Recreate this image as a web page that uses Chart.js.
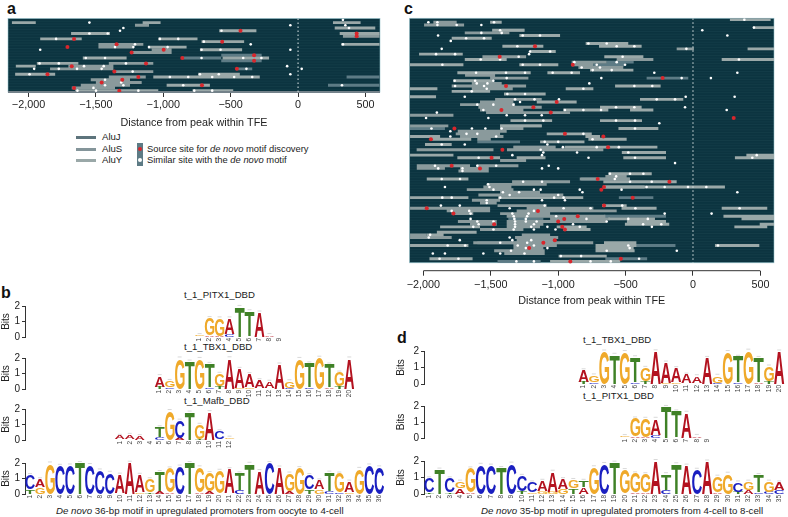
<!DOCTYPE html>
<html>
<head>
<meta charset="utf-8">
<script src="https://cdn.jsdelivr.net/npm/chart.js@4"></script>
<style>
body { margin: 0; background: #fff; width: 788px; height: 517px; overflow: hidden; position: relative; font-family: "Liberation Sans", sans-serif; color: #222; }
canvas { position: absolute; filter: blur(0.35px); }
.txt { position: absolute; white-space: nowrap; font-size: 9.6px; line-height: 12px; }
.legend { font-size: 9.4px; }
.caption { font-size: 9.7px; }
.panel { position: absolute; font-weight: bold; font-size: 16px; line-height: 16px; color: #111; }
.swatch { position: absolute; left: 76px; width: 20px; height: 3px; }
</style>
</head>
<body>
<div class="panel" style="left:7px;top:1px">a</div>
<div class="panel" style="left:404px;top:1px">c</div>
<div class="panel" style="left:1px;top:285px">b</div>
<div class="panel" style="left:397px;top:330px">d</div>

<div class="swatch" style="top:136px;background:#5d747c"></div>
<div class="swatch" style="top:148px;background:#84959a"></div>
<div class="swatch" style="top:159px;background:#9aa8a8"></div>
<div class="txt" style="left:102px;top:131px">AluJ</div>
<div class="txt" style="left:102px;top:143px">AluS</div>
<div class="txt" style="left:102px;top:154px">AluY</div>
<div style="position:absolute;left:137px;top:143px;width:6px;height:23px;background:#5d7b85"></div>
<div style="position:absolute;left:138px;top:147px;width:4px;height:4px;border-radius:2px;background:#d8262c"></div>
<div style="position:absolute;left:138px;top:158px;width:4px;height:4px;border-radius:2px;background:#fff"></div>
<div class="txt legend" style="left:147px;top:143px">Source site for <i>de novo</i> motif discovery</div>
<div class="txt legend" style="left:147px;top:154px">Similar site with the <i>de novo</i> motif</div>

<div class="txt" style="left:184px;top:289px">t_1_PITX1_DBD</div>
<div class="txt" style="left:184px;top:341px">t_1_TBX1_DBD</div>
<div class="txt" style="left:184px;top:395px">t_1_Mafb_DBD</div>
<div class="txt caption" style="left:56px;top:505px"><i>De novo</i> 36-bp motif in upregulated promoters from oocyte to 4-cell</div>
<div class="txt" style="left:583px;top:334px">t_1_TBX1_DBD</div>
<div class="txt" style="left:583px;top:390px">t_1_PITX1_DBD</div>
<div class="txt caption" style="left:481px;top:505px"><i>De novo</i> 35-bp motif in upregulated promoters from 4-cell to 8-cell</div>

<script>
const distanceTicks = [-2000, -1500, -1000, -500, 0, 500];
const distanceLabels = ['\u22122,000', '\u22121,500', '\u22121,000', '\u2212500', '0', '500'];

// ----- panel a, [row, start, end] -----
const aAluJ = [[13,-570,-270],[14,-860,-570],[15,-570,-270],[18,-460,-340],[21,360,605],[24,222,605]];
const aAluS = [[2,-1210,-1106],[6,333,605],[9,-1481,-1148],[10,-1481,-1222],[11,-1086,-938],[12,-1247,-938],[16,-1404,-1074],[17,-1704,-1370],[18,-1840,-1370],[19,-1370,-1074],[21,-1404,-1130],[22,-1538,-1247],[23,-1500,-1160],[24,-1612,-1247],[25,-1679,-1358]];
const aAluY = [[1,-2123,-1946],[1,-1153,-1020],[1,259,464],[3,272,573],[4,-585,-309],[5,-1684,-1395],[5,309,605],[7,-1913,-1605],[7,-1037,-746],[8,-716,-400],[9,321,605],[10,-1111,-827],[11,-728,-415],[14,-1597,-1272],[14,-560,-215],[16,-1938,-1630],[17,-2094,-1946],[20,-2099,-1802],[20,-741,-432],[21,-1074,-284],[24,-975,-654],[26,-1654,-1037],[26,-783,-481]];
// [distance, row]
const aSource = [[-427,4],[435,5],[435,6],[-1662,7],[-563,8],[-1346,9],[-1711,10],[-997,11],[-1235,12],[-326,13],[-859,14],[-326,15],[-1128,16],[-1679,17],[-454,18],[-1363,19],[-1859,20],[-1185,21],[-1304,22],[-1457,23],[-713,24],[-1662,25],[-1326,26]];
const aSimilar = [[333,0],[-1548,1],[-57,2],[351,2],[-1296,3],[378,3],[-1321,4],[-568,4],[-1548,5],[-1412,5],[-1795,7],[-1025,7],[-889,7],[-699,8],[-1210,9],[-351,9],[333,9],[-1358,10],[-1222,10],[-1106,10],[-968,10],[-1913,11],[-716,11],[-575,11],[-57,11],[-1575,14],[-1432,14],[-716,14],[-407,14],[-272,14],[-1918,16],[-1775,16],[-1277,16],[-1588,17],[-1442,17],[-81,17],[-1958,18],[-1775,18],[-1640,18],[-1457,18],[-383,18],[27,18],[-1227,19],[-1992,20],[-728,20],[-588,20],[-57,20],[-951,21],[-815,21],[-637,21],[-474,21],[-340,21],[-1432,22],[-1457,23],[-1312,23],[-1432,24],[-1296,24],[-852,24],[326,24],[-1518,25],[-1637,26],[-1499,26],[-1185,26],[-770,26],[-637,26]];

// ----- panel c, [row, start, end] -----
const cAluJ = [[4,-1420,-1250],[16,-640,-440],[17,-740,-510],[22,-344,-35],[41,-2100,-1840],[46,-1600,-1283],[48,-1332,-1020],[67,-550,-294],[60,-830,-470],[74,-660,-200],[75,-1370,-1110],[84,-1600,-1200],[85,-560,-130],[91,-1450,-1130],[90,-650,-340]];
const cAluS = [[1,-1926,-1753],[2,-1995,-1698],[5,-1693,-1362],[11,-121,7],[14,-1562,-1238],[15,-566,-294],[16,-900,-640],[17,-900,-740],[18,-850,-517],[21,-1691,-1468],[22,-1505,-1221],[24,-1641,-1419],[25,-1790,-1238],[26,-1641,-1337],[30,-1468,-1122],[31,-1580,-1332],[32,-1728,-1320],[33,-1592,-1122],[34,-1580,-1258],[35,-1535,-912],[36,-2099,-1777],[40,-2099,-1815],[40,-1431,-1122],[41,-1431,-1258],[42,-1745,-1382],[43,-1760,-1431],[44,-1728,-1406],[45,-1600,-1500],[48,-1332,-1020],[49,-2050,-1480],[49,-1380,-665],[53,-1431,-1238],[55,-2049,-1654],[55,-1604,-1295],[56,-2049,-1840],[56,-1728,-1515],[57,-1740,-1515],[59,-650,-492],[60,-840,-467],[61,-1342,-912],[62,-1530,-1085],[63,-1555,-1347],[63,-665,-360],[64,-1678,-1332],[65,-1431,-1135],[66,-1592,-962],[68,-1640,-1431],[69,-1580,-1456],[70,-1450,-1085],[71,-2099,-1505],[71,-1234,-739],[72,-1827,-1505],[72,-1308,-566],[73,-1790,-1630],[73,-1431,-1060],[74,-1382,-1060],[74,-1060,-650],[75,-1060,-616],[76,-1744,-1456],[76,-1382,-1085],[76,-1085,-640],[77,-1654,-1456],[77,-1382,-1110],[78,-1382,-1135],[79,-1580,-1258],[81,-2099,-1975],[81,-1270,-1060],[82,-2099,-1790],[82,-1320,-1000],[83,-1308,-1036],[84,-1630,-740],[85,-1332,-1010],[86,-1332,-1110],[87,-1475,-1100],[88,-1400,-1100]];
const cAluY = [[0,274,576],[1,-1505,-1419],[3,447,601],[4,-1490,-1250],[6,-1288,-986],[7,-1790,-1493],[9,-796,-480],[10,-1414,-1110],[10,-697,-381],[11,405,601],[12,-1209,-1018],[13,-2032,-1708],[14,-658,-368],[15,-1693,-1382],[15,213,601],[17,-2104,-1703],[17,-1288,-999],[19,-764,-442],[20,-1748,-1204],[20,-1080,-838],[23,-1778,-1477],[25,-578,-240],[26,-2104,-1896],[26,-944,-739],[27,-1790,-1505],[28,-1402,-1093],[29,-2104,-1906],[30,-393,-72],[31,-1159,-863],[33,-690,-381],[34,-962,-628],[34,-467,-294],[38,-1354,-1045],[38,-690,-378],[40,-1431,-1122],[41,-553,-257],[43,-1085,-751],[44,-2099,-1876],[44,-798,-690],[45,-1945,-1645],[45,-776,-492],[46,-1134,-805],[47,-1988,-1790],[48,-952,-640],[48,-665,-264],[50,-528,-200],[51,-2099,-1777],[51,396,601],[52,-1748,-1431],[52,-1308,-1094],[52,-517,-200],[52,311,601],[58,-628,-306],[60,-1975,-1666],[61,-665,-121],[63,-665,237],[67,-2099,-1666],[67,-1446,-814],[70,-675,-492],[71,-530,-270],[71,213,551],[74,226,601],[75,-628,-282],[75,360,601],[76,-490,-200],[77,-505,-176],[77,495,601],[78,-1876,-1580],[78,-1011,-789],[78,307,551],[79,-962,-760],[80,-1900,-1605],[81,-1975,-1850],[84,-660,-420],[85,-2099,-1666],[85,-723,-420],[85,163,492],[86,-723,-440],[87,-723,-433],[89,-997,-640],[90,-1955,-1635],[91,-1060,-540]];
const cSource = [[-1172,10],[-1434,14],[-892,17],[-225,22],[-1387,25],[-1011,31],[-1184,33],[-1421,34],[-1055,35],[302,37],[-1770,41],[-950,43],[-665,44],[-1944,45],[-630,48],[-1414,49],[-1494,52],[-1790,55],[-1580,56],[-707,60],[-175,61],[-660,63],[-680,64],[-447,67],[-660,70],[-1975,71],[-1150,72],[-1777,73],[-855,74],[-955,75],[-1000,76],[-1475,77],[-970,78],[-950,79],[-1025,83],[-1110,84],[-1215,86],[-535,90],[-910,91]];
const cSimilar = [[381,0],[-1963,1],[-1896,1],[-1476,1],[-1896,2],[-1753,2],[-1570,2],[452,3],[-1431,4],[69,4],[-1570,5],[-1419,5],[-1263,6],[-1135,6],[-1891,6],[255,6],[-1683,7],[-1550,7],[-1797,8],[-776,9],[-640,9],[-1303,10],[-566,10],[-435,10],[-49,11],[-1864,11],[-1209,12],[-1060,12],[-1906,13],[-1765,13],[-1216,13],[-1293,14],[-522,14],[-1575,15],[-1431,15],[341,15],[-566,16],[-880,16],[-1859,17],[-1263,17],[-1135,17],[-714,17],[-504,17],[-826,18],[-690,18],[-744,19],[-603,19],[-1609,20],[-1387,20],[-1246,20],[-1041,20],[-900,20],[-287,20],[329,20],[-680,22],[-1382,22],[-84,22],[133,22],[-1768,23],[-1616,23],[-1481,23],[-769,24],[-1604,24],[-1525,24],[-1765,25],[-1550,25],[-435,25],[-302,25],[-813,26],[-1530,26],[-1641,27],[-1246,28],[-1377,28],[-1693,29],[-54,29],[309,29],[-1320,30],[-1176,30],[-994,30],[-269,30],[-133,30],[-1283,31],[-1481,32],[-1600,32],[-1332,32],[-59,33],[-571,33],[-435,33],[250,34],[-950,34],[-813,34],[-682,34],[-1555,34],[-1900,35],[-1382,36],[-1246,36],[-1122,36],[-1980,37],[-1518,37],[-1246,38],[-1110,38],[-571,38],[-430,38],[-250,39],[-1940,41],[-1640,41],[-1540,41],[-1420,41],[-430,41],[-813,43],[-1800,42],[-1680,43],[-1600,43],[-1460,44],[-1800,44],[-745,45],[-1000,46],[-1100,46],[-1864,47],[-1693,47],[-1080,47],[-965,48],[-714,48],[-550,48],[-1130,49],[-1110,50],[-860,50],[-1340,51],[-1120,51],[-480,50],[-1590,52],[-775,52],[-430,52],[473,51],[440,52],[-133,54],[-1914,55],[-1600,55],[-1460,55],[-1070,55],[-1890,56],[-1710,56],[-1120,56],[-1000,56],[-1710,57],[-616,58],[-467,58],[-368,58],[-570,59],[-1864,60],[-1728,60],[-580,60],[-1260,61],[-1120,61],[-467,61],[-306,61],[-1520,62],[-1840,63],[-1510,63],[-344,63],[-210,63],[-37,63],[99,63],[-1480,64],[-1180,64],[-1130,64],[-840,64],[-530,64],[-1410,65],[-1290,65],[-820,65],[329,65],[-1360,66],[-1000,66],[-1790,67],[-1860,67],[-1430,67],[-1030,67],[-960,67],[-1120,68],[-950,68],[-1530,68],[-1530,69],[-1870,70],[-1730,70],[-1100,70],[-525,70],[-1360,71],[-960,71],[-760,71],[-427,71],[346,71],[-1790,72],[-1660,72],[-1180,72],[-210,73],[138,73],[-1650,73],[-1340,73],[-1220,73],[-1015,74],[-1330,74],[-1230,74],[-1650,75],[-1325,75],[-1240,75],[-790,75],[-480,75],[-335,75],[-1600,76],[-1480,76],[-1320,76],[-1240,76],[-1160,76],[-640,76],[-1590,77],[-1320,77],[-1180,77],[-890,77],[-370,77],[-235,77],[-1630,78],[-1320,78],[-1200,78],[-1080,78],[-840,78],[-305,78],[-1480,79],[-1330,79],[-1180,79],[-1020,79],[-1950,81],[-1960,82],[-1360,82],[-1340,83],[-1200,83],[-1730,83],[-1430,84],[-1230,84],[-1300,85],[-1820,85],[-1690,85],[-480,85],[185,85],[-1180,85],[-470,86],[-1240,86],[-1080,86],[-1350,87],[-640,87],[-120,87],[-1930,88],[-1840,88],[-1555,88],[-1430,88],[-1250,88],[-980,89],[-830,89],[-1880,90],[-1740,90],[-400,90],[-1310,91],[-1180,91],[-760,91],[-610,91]];

// ----- motif logos, top letter and the one stacked under it at each position -----
const pitx1Upper = ['G','G','G','A','T','T','A','A','G'];
const pitx1UpperBits = [0.08, 1.12, 1.12, 1.0, 1.94, 1.62, 1.55, 0.1, 0.03];
const pitx1Lower = ['A','A','A','C','T','C','C','C','T'];
const pitx1LowerBits = [0.04, 0.1, 0.08, 0.2, 0, 0.04, 0.03, 0.03, 0];

const tbx1Upper = ['A','G','G','T','G','T','G','A','A','A','A','A','A','G','G','T','G','T','G','A'];
const tbx1UpperBits = [0.68, 0.42, 1.95, 1.75, 1.92, 1.52, 0.78, 1.96, 1.22, 0.86, 0.52, 0.42, 1.55, 0.42, 1.92, 1.55, 2.0, 1.48, 0.88, 1.95];
const tbx1Lower = ['T','C','A','C','A','C','T','C','G','G','T','G','C','C','A','C','A','A','T','C'];
const tbx1LowerBits = [0.15, 0.1, 0.02, 0.02, 0.02, 0.1, 0.2, 0.02, 0.08, 0.1, 0.05, 0.05, 0.03, 0.08, 0.02, 0.1, 0.02, 0.1, 0.18, 0.02];

const mafbUpper = ['A','A','A','G','T','G','C','T','G','A','C','G'];
const mafbUpperBits = [0.22, 0.28, 0.22, 0.02, 0.62, 1.85, 1.1, 1.75, 0.9, 1.78, 0.5, 0.1];
const mafbLower = ['T','T','T','A','C','A','A','C','T','C','G','A'];
const mafbLowerBits = [0.05, 0.05, 0.03, 0, 0.2, 0.02, 0.15, 0.02, 0.08, 0.02, 0.06, 0.05];

const oocyteUpper = ['C','A','G','C','C','T','C','C','C','A','A','A','G','T','G','C','T','G','G','G','A','T','T','A','C','A','G','G','C','A','T','G','A','G','C','C'];
const oocyteUpperBits = [0.92, 0.5, 1.95, 1.8, 1.82, 2.0, 1.85, 1.5, 1.35, 1.2, 2.0, 1.12, 0.85, 1.22, 1.55, 1.75, 2.0, 1.62, 1.15, 1.45, 1.55, 1.08, 1.95, 1.45, 2.0, 1.68, 1.12, 1.65, 0.92, 0.58, 1.18, 1.22, 0.7, 1.6, 1.82, 1.7];
const oocyteLower = ['T','G','A','T','T','C','T','T','T','G','G','G','T','A','A','T','C','A','A','T','G','C','C','C','T','G','A','A','T','G','C','C','G','A','T','T'];
const oocyteLowerBits = [0.3, 0.45, 0.02, 0.02, 0.02, 0, 0.02, 0.02, 0.02, 0.05, 0.02, 0.12, 0.1, 0.2, 0.1, 0.02, 0, 0.1, 0.2, 0.05, 0.05, 0.25, 0, 0.03, 0, 0.03, 0.2, 0.02, 0.3, 0.3, 0.2, 0.1, 0.1, 0.02, 0.02, 0.02];

const fourCellUpper = ['C','T','C','G','G','C','C','T','C','C','C','A','A','A','G','T','G','C','T','G','G','G','A','T','T','A','C','A','G','G','C','G','T','G','A'];
const fourCellUpperBits = [0.85, 1.45, 0.85, 0.4, 1.45, 1.75, 1.7, 1.55, 1.82, 0.9, 0.6, 0.6, 1.2, 0.6, 0.5, 0.4, 1.6, 1.8, 1.9, 1.4, 1.15, 1.1, 2.0, 0.95, 1.8, 1.7, 1.45, 1.95, 0.95, 1.2, 0.55, 0.5, 1.05, 0.6, 0.45];
const fourCellLower = ['T','A','T','A','A','T','T','C','T','T','G','G','G','G','T','A','A','T','C','A','A','A','G','C','C','C','T','G','A','A','T','A','C','C','C'];
const fourCellLowerBits = [0.1, 0.03, 0.1, 0.35, 0.1, 0.02, 0.02, 0.02, 0.02, 0.2, 0.1, 0.2, 0.15, 0.3, 0.35, 0.4, 0.02, 0.02, 0, 0.05, 0.1, 0.1, 0, 0.25, 0, 0.02, 0.02, 0.02, 0.1, 0.03, 0.15, 0.25, 0.1, 0.15, 0.25];

const letterColors = { A: '#b3121f', C: '#1a1fc0', G: '#efa92a', T: '#3f8126' };

Chart.defaults.font.family = '"Liberation Sans", sans-serif';
Chart.defaults.color = '#222';
Chart.defaults.animation = false;

function addCanvas(left, top, width, height) {
    const c = document.createElement('canvas');
    c.width = width;
    c.height = height;
    c.style.left = left + 'px';
    c.style.top = top + 'px';
    document.body.appendChild(c);
    return c;
}

function segmentPoints(list) {
    const pts = [];
    list.forEach(s => {
        pts.push({ x: s[1], y: s[0] }, { x: s[2], y: s[0] }, { x: null, y: null });
    });
    return pts;
}

function sitePoints(list) {
    return list.map(p => ({ x: p[0], y: p[1] }));
}

// dark band with its faint row lines, only over the rows
const rowBand = {
    id: 'rowBand',
    beforeDatasetsDraw(chart, args, opts) {
        const { ctx, chartArea } = chart;
        const y = chart.scales.y;
        const top = y.getPixelForValue(-0.5);
        const bottom = y.getPixelForValue(opts.lastRow + 0.5);
        ctx.save();
        ctx.fillStyle = '#0c3440';
        ctx.fillRect(chartArea.left, top, chartArea.width, bottom - top);
        ctx.strokeStyle = 'rgba(120,165,170,0.12)';
        ctx.lineWidth = 0.6;
        for (let r = 0; r <= opts.lastRow; r++) {
            const py = y.getPixelForValue(r + 0.5);
            ctx.beginPath();
            ctx.moveTo(chartArea.left, py);
            ctx.lineTo(chartArea.right, py);
            ctx.stroke();
        }
        ctx.strokeStyle = 'rgba(150,195,205,0.7)';
        ctx.lineWidth = 0.8;
        ctx.strokeRect(chartArea.left, top, chartArea.width, bottom - top);
        ctx.restore();
    }
};

function alignmentChart(cfg) {
    const canvas = addCanvas(cfg.left, cfg.top, cfg.width, cfg.height);
    const seg = (label, list, color) => ({
        label, data: segmentPoints(list), showLine: true, pointRadius: 0, borderColor: color,
        borderWidth: cfg.rowHeight, borderCapStyle: 'butt', spanGaps: false, order: 5
    });
    const dots = (label, list, color, r) => ({
        label, data: sitePoints(list), showLine: false, pointRadius: r, pointBorderWidth: 0,
        backgroundColor: color, order: 1
    });
    new Chart(canvas, {
        type: 'scatter',
        data: {
            datasets: [
                dots('Source site', cfg.source, '#d8262c', 2),
                dots('Similar site', cfg.similar, '#ffffff', 1.3),
                {
                    label: 'zero', data: [{ x: 0, y: -0.5 }, { x: 0, y: cfg.lastRow + 0.5 }], showLine: true,
                    pointRadius: 0, borderColor: '#dfe8e8', borderWidth: 1, borderDash: [1.5, 2.5], order: 2
                },
                seg('AluY', cfg.aluY, '#9aa8a8'),
                seg('AluS', cfg.aluS, '#8a9a9c'),
                seg('AluJ', cfg.aluJ, '#5d7b85'),
                {
                    label: 'axis', data: [{ x: cfg.axisFrom, y: cfg.yMax }, { x: cfg.axisTo, y: cfg.yMax }], showLine: true,
                    pointRadius: 0, borderColor: cfg.axisColor, borderWidth: cfg.axisWidth, clip: false, order: 3
                }
            ]
        },
        plugins: [rowBand],
        options: {
            responsive: false,
            layout: { padding: { left: cfg.plotLeft, right: cfg.width - cfg.plotRight, top: cfg.plotTop, bottom: 0 } },
            plugins: { legend: { display: false }, tooltip: { enabled: false }, rowBand: { lastRow: cfg.lastRow } },
            scales: {
                x: {
                    type: 'linear', min: cfg.xMin, max: cfg.xMax,
                    afterBuildTicks: scale => { scale.ticks = distanceTicks.map(v => ({ value: v })); },
                    afterFit: scale => { scale.height = cfg.height - cfg.plotBottom; },
                    border: { display: false },
                    grid: { drawOnChartArea: false, drawTicks: true, tickLength: 5, tickColor: '#333', tickWidth: 1 },
                    ticks: {
                        padding: cfg.tickPadding, maxRotation: 0, autoSkip: false, font: { size: 10.8 }, color: '#222',
                        callback: v => distanceLabels[distanceTicks.indexOf(v)]
                    },
                    title: { display: true, text: 'Distance from peak within TFE', font: { size: 10.8 }, color: '#222', padding: 0 }
                },
                y: { display: false, reverse: true, min: -0.5, max: cfg.yMax }
            }
        }
    });
}

alignmentChart({
    left: 0, top: 0, width: 388, height: 130, plotLeft: 8, plotRight: 380, plotTop: 18.5, plotBottom: 92,
    xMin: -2152, xMax: 608, lastRow: 26, yMax: 26.5, rowHeight: 2.9, axisFrom: -2152, axisTo: 608,
    axisColor: '#74828a', axisWidth: 2, tickPadding: 2,
    aluJ: aAluJ, aluS: aAluS, aluY: aAluY, source: aSource, similar: aSimilar
});

alignmentChart({
    left: 396, top: 0, width: 392, height: 308, plotLeft: 13.5, plotRight: 378, plotTop: 18.3, plotBottom: 270.7,
    xMin: -2103, xMax: 601, lastRow: 91, yMax: 94.5, rowHeight: 2.9, axisFrom: -2000, axisTo: 500,
    axisColor: '#333', axisWidth: 1, tickPadding: 3,
    aluJ: cAluJ, aluS: cAluS, aluY: cAluY, source: cSource, similar: cSimilar
});

// stretches each letter over the box of its stacked bar
const letterStack = {
    id: 'letterStack',
    afterDatasetsDraw(chart) {
        const { ctx } = chart;
        ctx.save();
        chart.data.datasets.forEach((ds, d) => {
            chart.getDatasetMeta(d).data.forEach((bar, i) => {
                const letter = ds.letters[i];
                if (!letter) return;
                const h = bar.base - bar.y;
                if (h < 0.3) return;
                const w = bar.width - 0.2;
                ctx.font = 'bold 40px "Liberation Sans"';
                const m = ctx.measureText(letter);
                const gw = m.actualBoundingBoxLeft + m.actualBoundingBoxRight;
                const gh = m.actualBoundingBoxAscent + m.actualBoundingBoxDescent;
                ctx.save();
                ctx.translate(bar.x - w / 2, bar.y);
                ctx.scale(w / gw, h / gh);
                ctx.fillStyle = letterColors[letter];
                ctx.textAlign = 'left';
                ctx.textBaseline = 'alphabetic';
                ctx.fillText(letter, m.actualBoundingBoxLeft, m.actualBoundingBoxAscent);
                ctx.restore();
                if (d === 1) {
                    ctx.strokeStyle = '#c9c9c9';
                    ctx.lineWidth = 0.7;
                    ctx.beginPath();
                    ctx.moveTo(bar.x - 2, bar.y - 1.5);
                    ctx.lineTo(bar.x + 2, bar.y - 1.5);
                    ctx.stroke();
                }
            });
        });
        ctx.restore();
    }
};

function logoChart(cfg) {
    const height = 6 + (cfg.y0 - cfg.y2) + 11;
    const canvas = addCanvas(cfg.left, cfg.y2 - 6, cfg.width, height);
    const blank = Array(cfg.slots).fill('');
    const place = arr => blank.map((b, i) => (i >= cfg.offset && i < cfg.offset + arr.length) ? arr[i - cfg.offset] : null);
    new Chart(canvas, {
        type: 'bar',
        data: {
            labels: blank.map((b, i) => (i >= cfg.offset && i < cfg.offset + cfg.upper.length) ? String(i - cfg.offset + 1) : ''),
            datasets: [
                { label: 'lower', data: place(cfg.lowerBits), letters: place(cfg.lower), backgroundColor: 'transparent', barPercentage: 1, categoryPercentage: 1 },
                { label: 'upper', data: place(cfg.upperBits), letters: place(cfg.upper), backgroundColor: 'transparent', barPercentage: 1, categoryPercentage: 1 }
            ]
        },
        plugins: [letterStack],
        options: {
            responsive: false,
            layout: { padding: { top: 6, left: 0, right: 0, bottom: 0 } },
            plugins: { legend: { display: false }, tooltip: { enabled: false } },
            scales: {
                x: {
                    stacked: true,
                    afterFit: scale => { scale.height = 11; },
                    border: { display: false },
                    grid: { display: false, drawTicks: false },
                    ticks: { autoSkip: false, minRotation: 90, maxRotation: 90, padding: 1, font: { size: 6.5 }, color: '#444' }
                },
                y: {
                    stacked: true, min: 0, max: 2,
                    afterFit: scale => { scale.width = cfg.axisWidth; },
                    border: { display: true, color: '#333', width: 1 },
                    grid: { drawOnChartArea: false, drawTicks: true, tickLength: 3, tickColor: '#333' },
                    ticks: { stepSize: 1, padding: 2, font: { size: 10 }, color: '#222' },
                    title: { display: true, text: 'Bits', font: { size: 10 }, color: '#222', padding: 0 }
                }
            }
        }
    });
}

const panelB = { left: 0, width: 388, axisWidth: 25, slots: 36 };
const panelD = { left: 395, width: 393, axisWidth: 29, slots: 35 };

logoChart({ ...panelB, y2: 304, y0: 337.3, offset: 17, upper: pitx1Upper, upperBits: pitx1UpperBits, lower: pitx1Lower, lowerBits: pitx1LowerBits });
logoChart({ ...panelB, y2: 355.7, y0: 389.3, offset: 13, upper: tbx1Upper, upperBits: tbx1UpperBits, lower: tbx1Lower, lowerBits: tbx1LowerBits });
logoChart({ ...panelB, y2: 407.3, y0: 440.7, offset: 9, upper: mafbUpper, upperBits: mafbUpperBits, lower: mafbLower, lowerBits: mafbLowerBits });
logoChart({ ...panelB, y2: 460.7, y0: 494, offset: 0, upper: oocyteUpper, upperBits: oocyteUpperBits, lower: oocyteLower, lowerBits: oocyteLowerBits });

logoChart({ ...panelD, y2: 349, y0: 384, offset: 15, upper: tbx1Upper, upperBits: tbx1UpperBits, lower: tbx1Lower, lowerBits: tbx1LowerBits });
logoChart({ ...panelD, y2: 404.3, y0: 439, offset: 19, upper: pitx1Upper, upperBits: pitx1UpperBits, lower: pitx1Lower, lowerBits: pitx1LowerBits });
logoChart({ ...panelD, y2: 459, y0: 494.3, offset: 0, upper: fourCellUpper, upperBits: fourCellUpperBits, lower: fourCellLower, lowerBits: fourCellLowerBits });
</script>
</body>
</html>
